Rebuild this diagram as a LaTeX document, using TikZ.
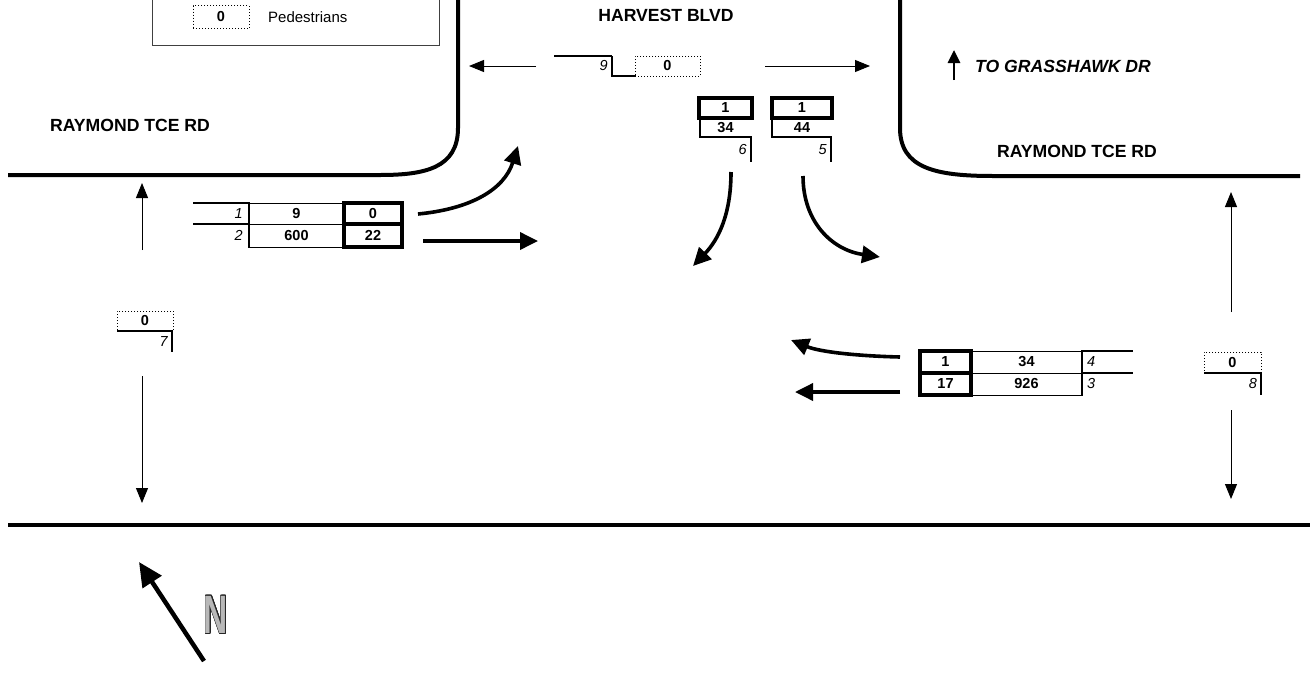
\documentclass[tikz,border=0pt]{standalone}
\usepackage{fontspec}
\setmainfont{Liberation Sans}
\usepackage{contour}
\usetikzlibrary{arrows.meta}
\contourlength{1pt}
\tikzset{
  road/.style={line width=4pt},
  num/.style={font=\fontsize{14.5}{16}\selectfont\bfseries, inner sep=0pt, outer sep=0pt, anchor=center},
  cell/.style={num, draw, line width=1pt},
  tcell/.style={num, draw, line width=3.2pt},
  pedbox/.style={num, draw, dotted, line width=1pt},
  idx/.style={font=\fontsize{14.5}{16}\selectfont\itshape, inner sep=0pt},
  lab/.style={font=\fontsize{17.6}{20}\selectfont\bfseries, inner sep=0pt},
  bar/.style={line width=2.6pt},
  tarrow/.style={line width=1pt, -{Triangle[length=15pt,width=12pt]}},
  barrow/.style={line width=3.6pt, -{Triangle[length=18pt,width=17pt]}},
}
\begin{document}
\begin{tikzpicture}[x=1pt,y=-1pt]
\useasboundingbox (0,0) rectangle (1314,675);

% legend
\draw[black!75, line width=1pt] (152,-5) rectangle (439,45);
\node[pedbox, minimum width=56pt, minimum height=23pt] (legped) at (221,17) {0};
\node[font=\fontsize{15}{17}\selectfont, inner sep=0pt, anchor=west] (legtxt) at (268,17) {Pedestrians};

% roads
\draw[road] (458,0) -- (458,128) .. controls (458,168) and (425,175) .. (380,175) -- (8,175);
\draw[road] (900,0) -- (900,128) .. controls (900,168) and (935,176) .. (993,176) -- (1300,176);
\draw[road] (8,525) -- (1310,525);

% labels
\node[lab] (harvest) at (666,15) {HARVEST BLVD};
\node[lab] (raymondL) at (130,125) {RAYMOND TCE RD};
\node[lab] (raymondR) at (1077,151) {RAYMOND TCE RD};
\node[lab, font=\fontsize{17.6}{20}\selectfont\bfseries\itshape, anchor=west] (grass) at (975,66) {TO GRASSHAWK DR};
\coordinate (gA) at (954,80);
\coordinate (gB) at (954,50);
\draw[line width=2.8pt, -{Triangle[length=13pt,width=12pt]}] (gA) -- (gB);

% top pedestrian crossing (9)
\draw[bar] (554,56) -- (612,56);
\draw[line width=1.8pt] (612,56) -- (612,76) -- (636,76);
\node[idx, anchor=east] (i9) at (608,66) {9};
\node[pedbox, minimum width=65pt, minimum height=20pt] (p9) at (667.5,66) {0};
\coordinate (p9Ls) at (536,66); \coordinate (p9Le) at (469,66);
\coordinate (p9Rs) at (765,66); \coordinate (p9Re) at (870,66);
\draw[tarrow] (p9Ls) -- (p9Le);
\draw[tarrow] (p9Rs) -- (p9Re);

% southbound approach
\node[tcell, minimum width=53pt, minimum height=20pt] (s6h) at (725.5,108) {1};
\node[num] (s6v) at (725.5,127.5) {34};
\draw[line width=1.5pt] (700,118) -- (700,137) -- (751,137);
\draw[bar] (751,136) -- (751,162);
\node[idx, anchor=east] (i6) at (747,150) {6};
\node[tcell, minimum width=60pt, minimum height=20pt] (s5h) at (802,108) {1};
\node[num] (s5v) at (802,127.5) {44};
\draw[line width=1.5pt] (772,118) -- (772,137) -- (831,137);
\draw[bar] (831,136) -- (831,162);
\node[idx, anchor=east] (i5) at (827,150) {5};
\coordinate (s6a) at (731,172); \coordinate (s6b) at (693,266);
\coordinate (s5a) at (803,176); \coordinate (s5b) at (880,257);
\draw[barrow] (s6a) .. controls (731,215) and (718,240) .. (s6b);
\draw[barrow] (s5a) .. controls (803,222) and (832,250) .. (s5b);

% eastbound approach
\draw[bar] (193,203) -- (249,203);
\draw[bar] (193,224) -- (249,224);
\draw[bar] (249,202) -- (249,248);
\node[cell, minimum width=95pt, minimum height=21pt] (e9) at (296.5,213.5) {9};
\node[cell, minimum width=95pt, minimum height=23pt] (e600) at (296.5,235.5) {600};
\node[tcell, minimum width=58pt, minimum height=21pt] (e0) at (373,213.5) {0};
\node[tcell, minimum width=58pt, minimum height=23pt] (e22) at (373,235.5) {22};
\node[idx, anchor=east] (i1) at (243,213.5) {1};
\node[idx, anchor=east] (i2) at (243,235.5) {2};
\coordinate (e1a) at (418,214); \coordinate (e1b) at (518,146);
\coordinate (e2a) at (423,241); \coordinate (e2b) at (538,241);
\draw[barrow] (e1a) .. controls (470,209) and (504,190) .. (e1b);
\draw[barrow] (e2a) -- (e2b);

% westbound approach
\node[tcell, minimum width=51pt, minimum height=22pt] (w1) at (945.5,362) {1};
\node[tcell, minimum width=51pt, minimum height=22pt] (w17) at (945.5,384) {17};
\node[cell, minimum width=111pt, minimum height=22pt] (w34) at (1026.5,362) {34};
\node[cell, minimum width=111pt, minimum height=22pt] (w926) at (1026.5,384) {926};
\draw[bar] (1082,350) -- (1082,396);
\draw[bar] (1082,351) -- (1133,351);
\draw[bar] (1082,373) -- (1133,373);
\node[idx, anchor=west] (i4) at (1087,362) {4};
\node[idx, anchor=west] (i3) at (1087,384) {3};
\coordinate (w4a) at (900,357); \coordinate (w4b) at (791,340);
\coordinate (w3a) at (900,392); \coordinate (w3b) at (795,392);
\draw[barrow] (w4a) .. controls (858,356) and (820,352) .. (w4b);
\draw[barrow] (w3a) -- (w3b);

% pedestrian crossing 7 (west)
\node[pedbox, minimum width=56pt, minimum height=20pt] (p7) at (145,321) {0};
\draw[line width=2.8pt] (117,331) -- (173,331);
\draw[line width=2.8pt] (172,330) -- (172,352);
\node[idx, anchor=east] (i7) at (168,341.5) {7};
\coordinate (p7Us) at (142,250); \coordinate (p7Ue) at (142,183);
\coordinate (p7Ds) at (142,376); \coordinate (p7De) at (142,503);
\draw[tarrow] (p7Us) -- (p7Ue);
\draw[tarrow] (p7Ds) -- (p7De);

% pedestrian crossing 8 (east)
\node[pedbox, minimum width=57pt, minimum height=21pt] (p8) at (1232.5,362.5) {0};
\draw[line width=2.8pt] (1204,373) -- (1262,373);
\draw[line width=2.8pt] (1261,372) -- (1261,395);
\node[idx, anchor=east] (i8) at (1257,384) {8};
\coordinate (p8Us) at (1231,312); \coordinate (p8Ue) at (1231,192);
\coordinate (p8Ds) at (1231,410); \coordinate (p8De) at (1231,499);
\draw[tarrow] (p8Us) -- (p8Ue);
\draw[tarrow] (p8Ds) -- (p8De);

% north arrow
\coordinate (nA) at (204,661); \coordinate (nB) at (139,562);
\draw[line width=4.5pt, -{Triangle[length=24pt,width=22pt]}] (nA) -- (nB);
\node[inner sep=0pt] (north) at (216,615) {\scalebox{0.62}[1]{\fontsize{54}{54}\selectfont\bfseries\contour{black!85}{\textcolor{black!28}{N}}}};
\end{tikzpicture}
\end{document}
